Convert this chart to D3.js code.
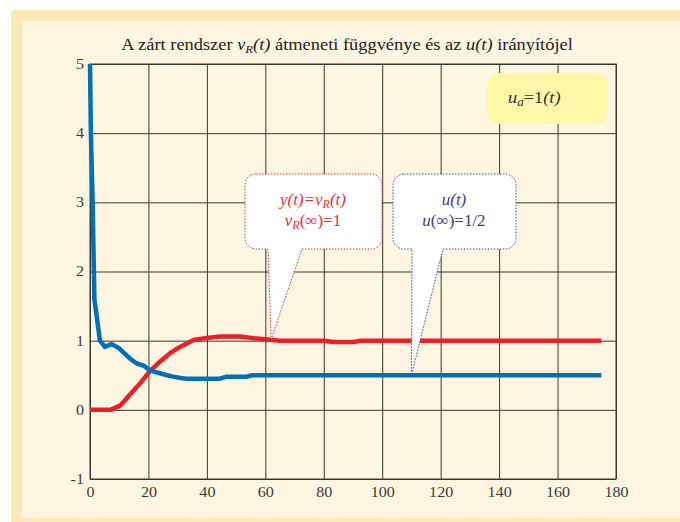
<!DOCTYPE html>
<html>
<head>
<meta charset="utf-8">
<script src="https://cdn.jsdelivr.net/npm/d3@7"></script>
<style>
  html, body { margin: 0; padding: 0; background: #fff; }
  svg { display: block; }
  .tick text { font-family: "Liberation Serif", "Times New Roman", serif; font-size: 14px; fill: #3a3a3a; }
</style>
</head>
<body>
<div id="chart"></div>
<script>
// u(t) control signal (blue)
const uTime = [0, 0.3, 0.9, 1.5, 3.4, 5.1, 7.4, 10, 13.7, 16, 18.3, 20.5, 23, 26.3, 28.5, 31, 33, 44.5, 46.8, 53.7, 55.5, 175];
const uValues = [5, 4, 3, 1.6, 1.0, 0.91, 0.95, 0.89, 0.74, 0.67, 0.64, 0.57, 0.54, 0.5, 0.48, 0.46, 0.45, 0.45, 0.48, 0.48, 0.5, 0.5];

// y(t) = vR(t) step response (red)
const yTime = [0, 7, 10.3, 13.7, 17.1, 20.5, 24, 27.4, 30.8, 35.4, 40, 44.5, 51.4, 56, 60, 65, 80, 83.3, 90.2, 92.5, 175];
const yValues = [0, 0, 0.06, 0.22, 0.38, 0.56, 0.70, 0.82, 0.91, 1.01, 1.04, 1.06, 1.06, 1.035, 1.02, 1.0, 1.0, 0.98, 0.98, 1.0, 1.0];

const xTicks = [0, 20, 40, 60, 80, 100, 120, 140, 160, 180];
const yTicks = [-1, 0, 1, 2, 3, 4, 5];

const W = 680, H = 522;
const margin = { top: 64, right: 64, bottom: 43, left: 90 };
const width = W - margin.left - margin.right;
const height = H - margin.top - margin.bottom;
const serif = '"Liberation Serif", "Times New Roman", serif';
const stretch = 1.15; // the source text is a bit wider than plain Times

const svg = d3.select("#chart").append("svg")
    .attr("width", W)
    .attr("height", H);

// page frame
svg.append("rect").attr("x", 11).attr("y", 10).attr("width", W - 11).attr("height", H - 10).attr("fill", "#fde9b6");
svg.append("rect").attr("x", 22).attr("y", 21).attr("width", W - 22).attr("height", 518 - 21).attr("fill", "#fff6e2");

const g = svg.append("g").attr("transform", `translate(${margin.left},${margin.top})`);

const x = d3.scaleLinear().domain([0, 180]).range([0, width]);
const y = d3.scaleLinear().domain([-1, 5]).range([height, 0]);

// grid + tick labels
g.append("g")
    .attr("transform", `translate(0,${height})`)
    .call(d3.axisBottom(x).tickValues(xTicks).tickSize(-height).tickPadding(8).tickFormat(d => String(d)))
    .call(a => a.select(".domain").remove())
    .call(a => a.selectAll("line").attr("stroke", "#3a3632"))
    .call(a => a.selectAll("text").attr("transform", `scale(${stretch},1)`));

g.append("g")
    .call(d3.axisLeft(y).tickValues(yTicks).tickSize(-width).tickPadding(6).tickFormat(d => String(d)))
    .call(a => a.select(".domain").remove())
    .call(a => a.selectAll("line").attr("stroke", "#3a3632"))
    .call(a => a.selectAll("text").attr("x", -6 / stretch).attr("transform", `scale(${stretch},1)`));

g.append("rect")
    .attr("width", width).attr("height", height)
    .attr("fill", "none").attr("stroke", "#3a3632").attr("stroke-width", 1);

// curves
const line = d3.line().x(d => x(d[0])).y(d => y(d[1]));

g.append("path")
    .datum(yTime.map((t, i) => [t, yValues[i]]))
    .attr("fill", "none").attr("stroke", "#e8202a").attr("stroke-width", 4.5)
    .attr("stroke-linejoin", "round")
    .attr("d", line);

g.append("path")
    .datum(uTime.map((t, i) => [t, uValues[i]]))
    .attr("fill", "none").attr("stroke", "#0071b9").attr("stroke-width", 4.5)
    .attr("stroke-linejoin", "round")
    .attr("d", line);

// title
const title = svg.append("text")
    .attr("transform", `translate(347,50) scale(${stretch},1)`)
    .attr("text-anchor", "middle")
    .style("font-family", serif).style("font-size", "16px").attr("fill", "#222");
title.append("tspan").text("A zárt rendszer ");
title.append("tspan").style("font-style", "italic").text("v");
title.append("tspan").style("font-style", "italic").style("font-size", "11px").attr("dy", 3).text("R");
title.append("tspan").style("font-style", "italic").attr("dy", -3).text("(t)");
title.append("tspan").text(" átmeneti függvénye és az ");
title.append("tspan").style("font-style", "italic").text("u(t)");
title.append("tspan").text(" irányítójel");

// callout bubble with a tail pointing at a data point
function callout(box, tailL, tailR, tip, color) {
    const [x0, y0, x1, y1] = box, r = 11;
    const p = d3.path();
    p.moveTo(x0 + r, y0);
    p.lineTo(x1 - r, y0);
    p.arcTo(x1, y0, x1, y0 + r, r);
    p.lineTo(x1, y1 - r);
    p.arcTo(x1, y1, x1 - r, y1, r);
    p.lineTo(tailR, y1);
    p.lineTo(tip[0], tip[1]);
    p.lineTo(tailL, y1);
    p.lineTo(x0 + r, y1);
    p.arcTo(x0, y1, x0, y1 - r, r);
    p.lineTo(x0, y0 + r);
    p.arcTo(x0, y0, x0 + r, y0, r);
    p.closePath();
    svg.append("path")
        .attr("d", p.toString())
        .attr("fill", "#fff")
        .attr("stroke", color).attr("stroke-width", 1)
        .attr("stroke-dasharray", "1.5,1.5");
}

const redTip = [margin.left + x(62), margin.top + y(1.02)];
const blueTip = [margin.left + x(110), margin.top + y(0.5)];
callout([245, 174, 382, 249], 268, 302, redTip, "#e8303c");
callout([393, 174, 516, 249], 412, 443, blueTip, "#4a4aa8");

const red = "#e8303c", blue = "#3c3c96";
const t1 = svg.append("text").attr("x", 313).attr("y", 205).attr("text-anchor", "middle")
    .style("font-family", serif).style("font-size", "17px").attr("fill", red).style("font-style", "italic");
t1.append("tspan").text("y(t)=v");
t1.append("tspan").style("font-size", "12px").attr("dy", 3).text("R");
t1.append("tspan").attr("dy", -3).text("(t)");

const t2 = svg.append("text").attr("x", 313).attr("y", 226).attr("text-anchor", "middle")
    .style("font-family", serif).style("font-size", "17px").attr("fill", red);
t2.append("tspan").style("font-style", "italic").text("v");
t2.append("tspan").style("font-style", "italic").style("font-size", "12px").attr("dy", 3).text("R");
t2.append("tspan").attr("dy", -3).text("(∞)=1");

svg.append("text").attr("x", 454).attr("y", 205).attr("text-anchor", "middle")
    .style("font-family", serif).style("font-size", "17px").attr("fill", blue).style("font-style", "italic")
    .text("u(t)");
const t4 = svg.append("text").attr("x", 454).attr("y", 226).attr("text-anchor", "middle")
    .style("font-family", serif).style("font-size", "17px").attr("fill", blue);
t4.append("tspan").style("font-style", "italic").text("u");
t4.append("tspan").text("(∞)=1/2");

// input legend box
svg.append("rect")
    .attr("x", 487).attr("y", 73).attr("width", 121).attr("height", 51).attr("rx", 12)
    .attr("fill", "#fff7a8");
const t5 = svg.append("text").attr("transform", "translate(508,103) scale(1.08,1)")
    .style("font-family", serif).style("font-size", "17px").attr("fill", "#333");
t5.append("tspan").style("font-style", "italic").text("u");
t5.append("tspan").style("font-style", "italic").style("font-size", "12px").attr("dy", 3).text("a");
t5.append("tspan").attr("dy", -3).text("=1");
t5.append("tspan").style("font-style", "italic").text("(t)");
</script>
</body>
</html>
